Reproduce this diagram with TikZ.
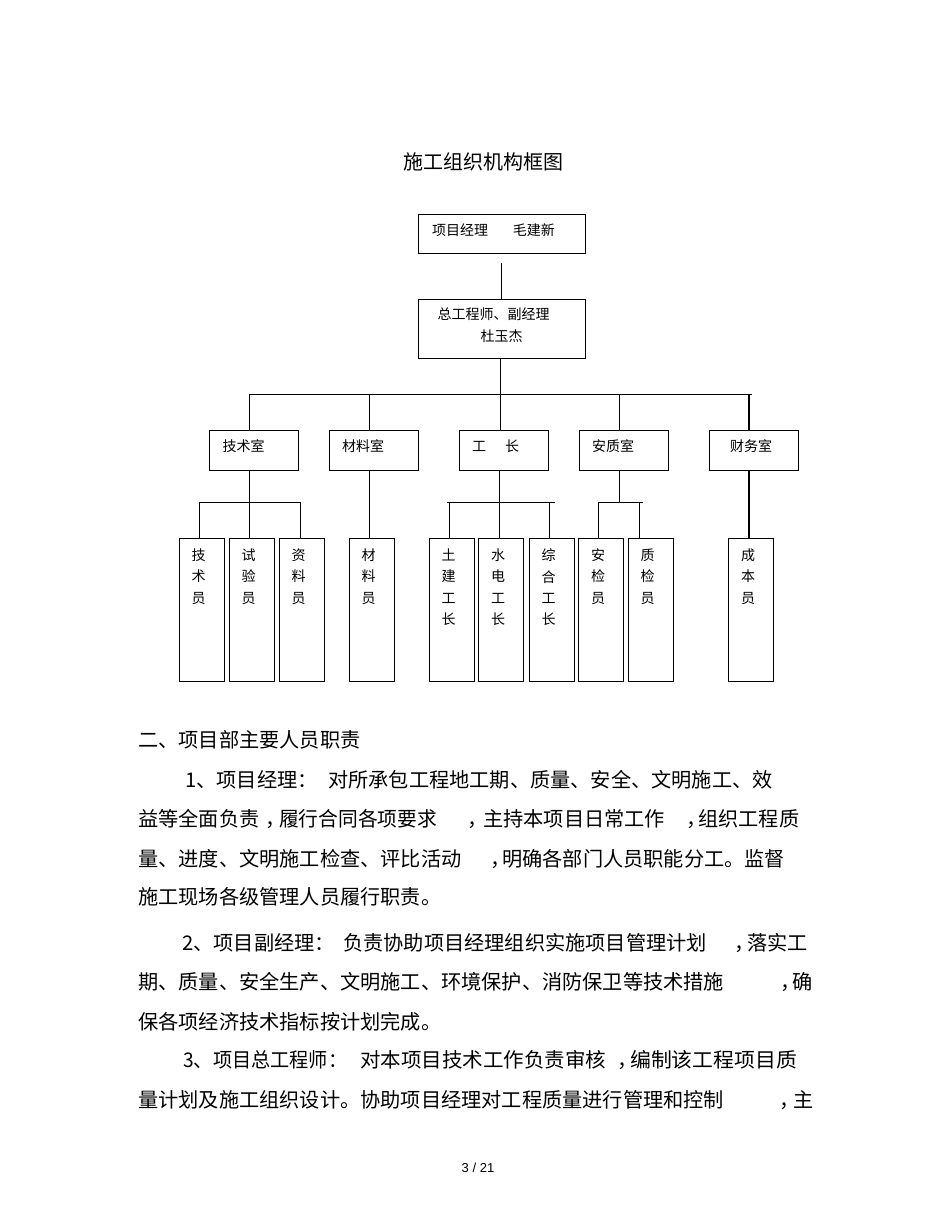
\documentclass[tikz,border=0pt]{standalone}
\usepackage{fontspec}
\usepackage{graphicx}
\setmainfont{Liberation Sans}
\newfontfamily\cjk{Noto Sans CJK SC}
\newcommand{\vlab}[1]{\parbox[c][143pt][t]{39pt}{\vspace*{11pt}\centering #1}\hspace*{6pt}}
\newcommand{\fitw}[2]{\resizebox{#1}{\height}{#2}}
\newcommand{\lift}{\rule[-8pt]{0pt}{1pt}}
\tikzset{
  box/.style={draw=black, line width=0.8pt, inner sep=0pt, font=\cjk\fontsize{14}{22}\selectfont},
  topbox/.style={box, minimum width=167pt, text width=139pt},
  dept/.style={box, minimum width=89pt, minimum height=40pt, text width=63pt, align=left},
  staff/.style={box, minimum width=45pt, minimum height=143pt, font=\cjk\fontsize{14}{21.2}\selectfont},
  conn/.style={draw=black, line width=0.8pt},
  thickconn/.style={draw=black, line width=1.6pt},
  body/.style={anchor=base west, inner sep=0pt, font=\cjk\fontsize{20.2}{24}\selectfont},
  titlefont/.style={inner sep=0pt, font=\cjk\fontsize{20}{24}\selectfont}
}
\begin{document}
\begin{tikzpicture}[x=1pt, y=-1pt]
\path[use as bounding box, fill=white] (0,0) rectangle (950,1230);

% title
\node[titlefont] (title) at (483,162) {施工组织机构框图};

% top boxes
\node[topbox, minimum height=39pt, align=left] (b1) at (501.5,233.5) {项目经理\hspace{25pt}毛建新\lift};
\node[topbox, minimum height=59pt, align=center] (b2) at (501.5,328.5) {\makebox[128pt][l]{总工程师、副经理}\\杜玉杰\lift};

% departments
\node[dept] (d1) at (254,450) {技术室\lift};
\node[dept] (d2) at (373.5,450) {材料室\lift};
\node[dept] (d3) at (503.5,450) {工\hspace{19pt}长\lift};
\node[dept] (d4) at (623.5,450) {安质室\lift};
\node[dept] (d5) at (753.5,450) {\hspace*{8pt}财务室\lift};

% staff boxes
\node[staff] (e1) at (201.5,609.5) {\vlab{技\\术\\员}};
\node[staff] (e2) at (251.5,609.5) {\vlab{试\\验\\员}};
\node[staff] (e3) at (301.5,609.5) {\vlab{资\\料\\员}};
\node[staff] (e4) at (371.5,609.5) {\vlab{材\\料\\员}};
\node[staff] (e5) at (451.5,609.5) {\vlab{土\\建\\工\\长}};
\node[staff] (e6) at (501,609.5) {\vlab{水\\电\\工\\长}};
\node[staff] (e7) at (551.5,609.5) {\vlab{综\\合\\工\\长}};
\node[staff] (e8) at (601,609.5) {\vlab{安\\检\\员}};
\node[staff] (e9) at (650.5,609.5) {\vlab{质\\检\\员}};
\node[staff] (e10) at (751,609.5) {\vlab{成\\本\\员}};

% connectors top
\draw[conn] ([yshift=-10pt]b1.south) -- (b2.north);
\coordinate (t1) at (249,394);
\coordinate (t2) at (369,394);
\coordinate (t3) at (500,394);
\coordinate (t4) at (619,394);
\coordinate (t5) at (749,394);
\coordinate (tR) at (752,394);
\draw[conn] (t1) -- (tR);
\draw[conn] (b2.south -| t3) -- (t3);
\draw[conn] (t1) -- (t1 |- d1.north);
\draw[conn] (t2) -- (t2 |- d2.north);
\draw[conn] (t3) -- (t3 |- d3.north);
\draw[conn] (t4) -- (t4 |- d4.north);
\draw[thickconn] (t5) -- (t5 |- d5.north);

% sub-buses
\coordinate (s1) at (249,502);
\coordinate (s1a) at (199,502);
\coordinate (s1b) at (300,502);
\coordinate (s3) at (499,502);
\coordinate (s3a) at (447,502);
\coordinate (s3c) at (449,502);
\coordinate (s3b) at (549,502);
\coordinate (s3e) at (555,502);
\coordinate (s4) at (619,502);
\coordinate (s4a) at (598,502);
\coordinate (s4b) at (639,502);
\coordinate (s4e) at (643,502);

\draw[conn] (s1 |- d1.south) -- (s1 |- e2.north);
\draw[conn] (s1a) -- (s1b);
\draw[conn] (s1a) -- (s1a |- e1.north);
\draw[conn] (s1b) -- (s1b |- e3.north);

\draw[conn] (t2 |- d2.south) -- (t2 |- e4.north);

\draw[conn] (s3 |- d3.south) -- (s3 |- e6.north);
\draw[conn] (s3a) -- (s3e);
\draw[conn] (s3c) -- (s3c |- e5.north);
\draw[conn] (s3b) -- (s3b |- e7.north);

\draw[conn] (s4 |- d4.south) -- (s4);
\draw[conn] (s4a) -- (s4e);
\draw[conn] (s4a) -- (s4a |- e8.north);
\draw[conn] (s4b) -- (s4b |- e9.north);

\draw[thickconn] (t5 |- d5.south) -- (t5 |- e10.north);

% body text
\node[body] (p0) at (138,747.6) {二、项目部主要人员职责};

\node[body] (p1a) at (185,787.6) {1、项目经理：};
\node[body] (p1b) at (328,787.6) {对所承包工程地工期、质量、安全、文明施工、效};

\node[body] (p2a) at (138,826.6) {益等全面负责};
\node[body] (p2b) at (265,826.6) {，};
\node[body] (p2c) at (279,826.6) {\fitw{158pt}{履行合同各项要求}};
\node[body] (p2d) at (467,826.6) {，};
\node[body] (p2e) at (483,826.6) {主持本项目日常工作};
\node[body] (p2f) at (686,826.6) {，};
\node[body] (p2g) at (698,826.6) {组织工程质};

\node[body] (p3a) at (138,866.6) {量、进度、文明施工检查、评比活动};
\node[body] (p3b) at (490,866.6) {，};
\node[body] (p3c) at (502,866.6) {明确各部门人员职能分工。监督};

\node[body] (p4) at (138,904.6) {施工现场各级管理人员履行职责。};

\node[body] (p5a) at (182,950.6) {2、项目副经理：};
\node[body] (p5b) at (343,950.6) {负责协助项目经理组织实施项目管理计划};
\node[body] (p5c) at (734,950.6) {，};
\node[body] (p5d) at (747,950.6) {落实工};

\node[body] (p6a) at (138,989.6) {期、质量、安全生产、文明施工、环境保护、消防保卫等技术措施};
\node[body] (p6b) at (780,989.6) {，};
\node[body] (p6c) at (792,989.6) {确};

\node[body] (p7) at (138,1029.6) {保各项经济技术指标按计划完成。};

\node[body] (p8a) at (183,1067.6) {\fitw{164pt}{3、项目总工程师：}};
\node[body] (p8b) at (360,1067.6) {\fitw{246pt}{对本项目技术工作负责审核}};
\node[body] (p8c) at (617,1067.6) {，};
\node[body] (p8d) at (630,1067.6) {\fitw{167pt}{编制该工程项目质}};

\node[body] (p9a) at (138,1107.6) {量计划及施工组织设计。协助项目经理对工程质量进行管理和控制};
\node[body] (p9b) at (779,1107.6) {，};
\node[body] (p9c) at (793,1107.6) {主};

% page number
\node[inner sep=0pt, font=\fontsize{13}{15}\selectfont] (pg) at (478,1168) {3 / 21};
\end{tikzpicture}
\end{document}
